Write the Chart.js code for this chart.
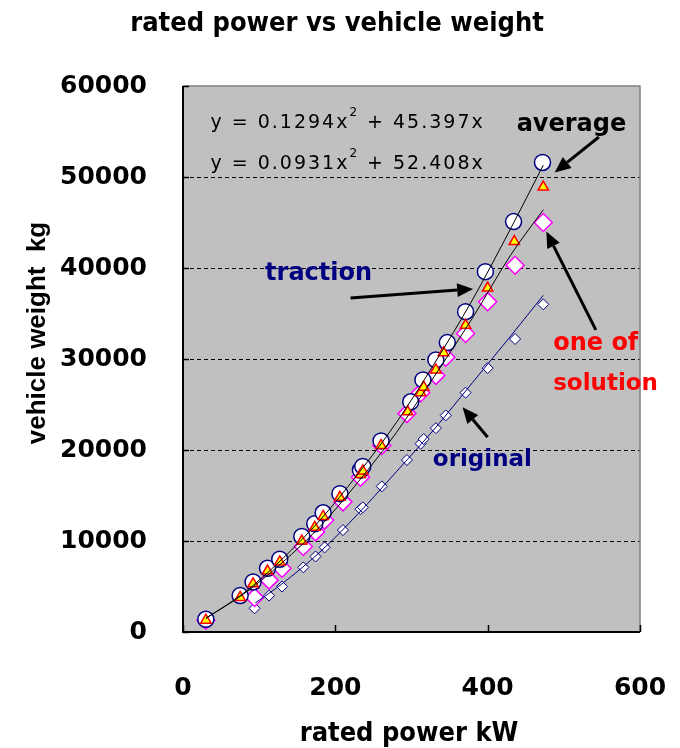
<!DOCTYPE html>
<html>
<head>
<meta charset="utf-8">
<script src="https://cdn.jsdelivr.net/npm/chart.js@4.4.0/dist/chart.umd.min.js"></script>
<style>
  html, body { margin: 0; padding: 0; background: #fff; }
  #wrap { width: 680px; height: 748px; }
</style>
</head>
<body>
<div id="wrap"><canvas id="chart" width="680" height="748"></canvas></div>
<script>
// Dữ liệu
const avgPower = [30, 75, 92, 111, 127, 156, 173, 184, 206, 233, 236, 260, 299, 315, 332, 347, 371, 397, 434, 472];
const avgWeight = [1400, 4000, 5500, 7000, 8000, 10500, 11900, 13100, 15200, 17800, 18200, 21000, 25300, 27700, 29900, 31800, 35200, 39600, 45100, 51600];

const triPower = [30, 75, 92, 111, 127, 156, 173, 184, 206, 233, 236, 260, 295, 312, 316, 332, 342, 371, 400, 435, 473];
const triWeight = [1300, 3800, 5300, 6700, 7700, 10000, 11500, 12700, 14800, 17300, 17700, 20500, 24200, 26300, 26900, 28800, 30700, 33700, 37800, 42900, 48900];

const solPower = [30, 94, 113, 130, 158, 174, 186, 210, 233, 261, 294, 312, 332, 345, 371, 400, 436, 473];
const solWeight = [1300, 3800, 5700, 7000, 9400, 11000, 12300, 14300, 17000, 20500, 24000, 26300, 28200, 30200, 32800, 36300, 40300, 45000];

const origPower = [94, 113, 130, 158, 174, 186, 210, 233, 236, 261, 294, 312, 316, 332, 345, 371, 400, 436, 473];
const origWeight = [2600, 4000, 5000, 7100, 8300, 9300, 11200, 13500, 13700, 16000, 18900, 20700, 21200, 22400, 23800, 26300, 29000, 32200, 36000];

// Đường xu hướng
const avgLinePower = [30, 80, 130, 180, 230, 280, 330, 380, 430, 473];
const avgLineWeight = [1500, 4300, 8000, 12300, 17400, 23000, 29500, 36500, 44300, 51300];
const solLinePower = [30, 80, 130, 180, 230, 280, 330, 380, 430, 473];
const solLineWeight = [1500, 4200, 7600, 11600, 16500, 21900, 28100, 34500, 41400, 46400];
const origLinePower = [95, 130, 180, 230, 280, 330, 380, 430, 473];
const origLineWeight = [3200, 5300, 8800, 13000, 17600, 22300, 27400, 32500, 37000];

const xTicks = [0, 200, 400, 600];
const yTicks = [0, 10000, 20000, 30000, 40000, 50000, 60000];

function toPoints(xs, ys) {
    return xs.map((x, i) => ({ x: x, y: ys[i] }));
}

// Chú thích (toạ độ theo dữ liệu)
const notes = [
    { text: 'average', x: 510, y: 55700, color: '#000', font: 'bold 24px "DejaVu Sans"', align: 'center' },
    { text: 'traction', x: 178, y: 39400, color: '#000080', font: 'bold 24px "DejaVu Sans"', align: 'center' },
    { text: 'one of', x: 486, y: 31700, color: '#ff0000', font: 'bold 24px "DejaVu Sans"', align: 'left' },
    { text: 'solution', x: 486, y: 27300, color: '#ff0000', font: 'bold 23px "DejaVu Sans"', align: 'left' },
    { text: 'original', x: 328, y: 18900, color: '#000080', font: 'bold 23px "DejaVu Sans"', align: 'left' }
];
const arrows = [
    { from: [546, 54400], to: [488, 50500] },
    { from: [220, 36700], to: [381, 37700] },
    { from: [542, 33200], to: [477, 44000] },
    { from: [400, 21400], to: [367, 24700] }
];

const decorPlugin = {
    id: 'decor',
    beforeDatasetsDraw(chart) {
        const ctx = chart.ctx;
        const a = chart.chartArea;
        const ys = chart.scales.y;
        ctx.save();
        ctx.fillStyle = '#c0c0c0';
        ctx.fillRect(a.left, a.top, a.right - a.left, a.bottom - a.top);
        // lưới ngang nét đứt
        ctx.strokeStyle = '#000';
        ctx.lineWidth = 1;
        ctx.setLineDash([4, 3]);
        yTicks.forEach(v => {
            if (v === 0 || v === 60000) return;
            const py = Math.round(ys.getPixelForValue(v)) + 0.5;
            ctx.beginPath();
            ctx.moveTo(a.left, py);
            ctx.lineTo(a.right, py);
            ctx.stroke();
        });
        ctx.restore();
    },
    afterDraw(chart) {
        const ctx = chart.ctx;
        const a = chart.chartArea;
        const xs = chart.scales.x;
        const ys = chart.scales.y;
        ctx.save();

        // khung
        ctx.strokeStyle = '#808080';
        ctx.lineWidth = 1.5;
        ctx.beginPath();
        ctx.moveTo(a.left, a.top);
        ctx.lineTo(a.right, a.top);
        ctx.lineTo(a.right, a.bottom);
        ctx.stroke();
        ctx.strokeStyle = '#000';
        ctx.lineWidth = 2;
        ctx.beginPath();
        ctx.moveTo(a.left, a.top);
        ctx.lineTo(a.left, a.bottom);
        ctx.lineTo(a.right, a.bottom);
        ctx.stroke();

        // vạch chia hướng vào trong
        ctx.lineWidth = 1.5;
        yTicks.forEach(v => {
            const py = Math.round(ys.getPixelForValue(v)) + 0.5;
            ctx.beginPath();
            ctx.moveTo(a.left, py);
            ctx.lineTo(a.left + 6, py);
            ctx.stroke();
        });
        xTicks.forEach(v => {
            const px = Math.round(xs.getPixelForValue(v)) + 0.5;
            ctx.beginPath();
            ctx.moveTo(px, a.bottom);
            ctx.lineTo(px, a.bottom - 7);
            ctx.stroke();
        });

        // tiêu đề
        ctx.fillStyle = '#000';
        ctx.textBaseline = 'middle';
        ctx.textAlign = 'center';
        ctx.font = 'bold 27px "Liberation Sans Narrow", "DejaVu Sans Condensed", sans-serif';
        ctx.fillText('rated power vs vehicle weight', 337, 24);
        ctx.font = 'bold 27px "Liberation Sans Narrow", "DejaVu Sans Condensed", sans-serif';
        ctx.fillText('rated power kW', 409, 734);

        ctx.save();
        ctx.translate(38, 333);
        ctx.rotate(-Math.PI / 2);
        ctx.font = 'bold 26px "Liberation Sans", Arial, sans-serif';
        ctx.fillText('vehicle weight  kg', 0, 0);
        ctx.restore();

        // phương trình
        ctx.textAlign = 'left';
        drawEquation(ctx, 'y = 0.1294x', ' + 45.397x', xs.getPixelForValue(36), ys.getPixelForValue(55900));
        drawEquation(ctx, 'y = 0.0931x', ' + 52.408x', xs.getPixelForValue(36), ys.getPixelForValue(51400));

        notes.forEach(n => {
            ctx.font = n.font;
            ctx.fillStyle = n.color;
            ctx.textAlign = n.align;
            ctx.fillText(n.text, xs.getPixelForValue(n.x), ys.getPixelForValue(n.y));
        });

        arrows.forEach(ar => {
            drawArrow(ctx,
                xs.getPixelForValue(ar.from[0]), ys.getPixelForValue(ar.from[1]),
                xs.getPixelForValue(ar.to[0]), ys.getPixelForValue(ar.to[1]));
        });
        ctx.restore();
    }
};

function drawEquation(ctx, left, right, x, y) {
    ctx.fillStyle = '#000';
    ctx.font = '19px "DejaVu Sans", sans-serif';
    ctx.letterSpacing = '2px';
    ctx.fillText(left, x, y);
    let w = ctx.measureText(left).width;
    ctx.font = '12px "DejaVu Sans", sans-serif';
    ctx.fillText('2', x + w, y - 10);
    w += ctx.measureText('2').width;
    ctx.font = '19px "DejaVu Sans", sans-serif';
    ctx.fillText(right, x + w, y);
    ctx.letterSpacing = '0px';
}

function drawArrow(ctx, x1, y1, x2, y2) {
    const ang = Math.atan2(y2 - y1, x2 - x1);
    const head = 16;
    const hw = 7;
    const bx = x2 - head * Math.cos(ang);
    const by = y2 - head * Math.sin(ang);
    ctx.strokeStyle = '#000';
    ctx.fillStyle = '#000';
    ctx.lineWidth = 3;
    ctx.beginPath();
    ctx.moveTo(x1, y1);
    ctx.lineTo(bx, by);
    ctx.stroke();
    ctx.beginPath();
    ctx.moveTo(x2, y2);
    ctx.lineTo(bx + hw * Math.sin(ang), by - hw * Math.cos(ang));
    ctx.lineTo(bx - hw * Math.sin(ang), by + hw * Math.cos(ang));
    ctx.closePath();
    ctx.fill();
}

document.addEventListener('DOMContentLoaded', function() {
    const ctx = document.getElementById('chart');
    new Chart(ctx, {
        type: 'scatter',
        data: {
            datasets: [
                {
                    label: 'average trend',
                    data: toPoints(avgLinePower, avgLineWeight),
                    showLine: true,
                    borderColor: '#000',
                    borderWidth: 1,
                    pointRadius: 0,
                    cubicInterpolationMode: 'monotone'
                },
                {
                    label: 'solution trend',
                    data: toPoints(solLinePower, solLineWeight),
                    showLine: true,
                    borderColor: '#000',
                    borderWidth: 1,
                    pointRadius: 0,
                    cubicInterpolationMode: 'monotone'
                },
                {
                    label: 'original trend',
                    data: toPoints(origLinePower, origLineWeight),
                    showLine: true,
                    borderColor: '#000080',
                    borderWidth: 1,
                    pointRadius: 0,
                    cubicInterpolationMode: 'monotone'
                },
                {
                    label: 'traction',
                    data: toPoints(triPower, triWeight),
                    pointStyle: 'triangle',
                    pointRadius: 6,
                    pointBackgroundColor: '#ffff00',
                    pointBorderColor: '#ff0000',
                    pointBorderWidth: 1.5
                },
                {
                    label: 'average',
                    data: toPoints(avgPower, avgWeight),
                    pointStyle: 'circle',
                    pointRadius: 8,
                    pointBackgroundColor: '#ffffff',
                    pointBorderColor: '#000080',
                    pointBorderWidth: 1.5
                },
                {
                    label: 'one of solution',
                    data: toPoints(solPower, solWeight),
                    pointStyle: 'rectRot',
                    pointRadius: 9,
                    pointBackgroundColor: '#ffffff',
                    pointBorderColor: '#ff00ff',
                    pointBorderWidth: 1.5
                },
                {
                    label: 'original',
                    data: toPoints(origPower, origWeight),
                    pointStyle: 'rectRot',
                    pointRadius: 5.5,
                    pointBackgroundColor: '#ffffff',
                    pointBorderColor: '#000080',
                    pointBorderWidth: 1
                }
            ]
        },
        options: {
            responsive: false,
            animation: false,
            events: [],
            layout: { padding: { top: 86, right: 40, left: 0, bottom: 0 } },
            plugins: {
                legend: { display: false },
                tooltip: { enabled: false },
                title: { display: false }
            },
            scales: {
                x: {
                    type: 'linear',
                    min: 0,
                    max: 600,
                    afterBuildTicks: s => { s.ticks = xTicks.map(v => ({ value: v })); },
                    afterFit: s => { s.height = 116; s.paddingLeft = 0; s.paddingRight = 0; },
                    grid: { display: false, drawTicks: false },
                    border: { display: false },
                    ticks: {
                        color: '#000',
                        padding: 41,
                        maxRotation: 0,
                        callback: v => String(v),
                        font: { family: 'DejaVu Sans', weight: 'bold', size: 25 }
                    }
                },
                y: {
                    type: 'linear',
                    min: 0,
                    max: 60000,
                    afterBuildTicks: s => { s.ticks = yTicks.map(v => ({ value: v })); },
                    afterFit: s => { s.width = 183; s.paddingTop = 0; s.paddingBottom = 0; },
                    grid: { display: false, drawTicks: false },
                    border: { display: false },
                    ticks: {
                        color: '#000',
                        padding: 36,
                        callback: v => String(v),
                        font: { family: 'DejaVu Sans', weight: 'bold', size: 25 }
                    }
                }
            }
        },
        plugins: [decorPlugin]
    });
});
</script>
</body>
</html>
